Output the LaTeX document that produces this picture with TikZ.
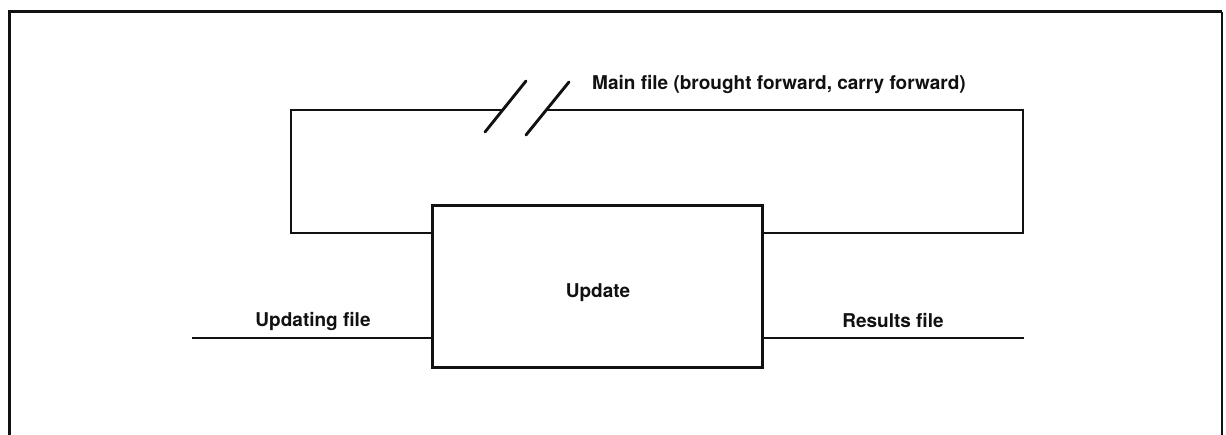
\documentclass[tikz,border=0pt]{standalone}
\usepackage{fontspec}
\setsansfont{TeX Gyre Heros}
\usetikzlibrary{positioning,calc}
\definecolor{Ink}{HTML}{111111}
\tikzset{
  wire/.style={line width=2.9pt,draw=Ink},
  procbox/.style={draw=Ink,line width=3pt,minimum width=330pt,minimum height=162pt,inner sep=0pt,fill=white},
  caption/.style={text=Ink,inner sep=0pt,font=\sffamily\bfseries\fontsize{19}{22}\selectfont},
  pageframe/.style={line width=3pt,draw=Ink}
}
\begin{document}
\begin{tikzpicture}[x=1pt,y=-1pt]
\useasboundingbox (0,0) rectangle (1226,435);
% page frame
\draw[pageframe] (9,435)--(9,12)--(1222,12);
\draw[Ink,line width=1.4pt] (1222,12)--(1222,435);
% update run
\node[procbox] (upd) at (597,287) {};
\node[caption,anchor=base] (updlbl) at (598,298) {Update};
% main file loop
\coordinate (loopTL) at (291,110);
\coordinate (loopTR) at (1023,110);
\coordinate (loopBL) at (291,233);
\coordinate (loopBR) at (1023,233);
\coordinate (brkA) at (503,110);
\coordinate (brkB) at (546,110);
\draw[wire] (upd.west |- loopBL)--(loopBL)--(loopTL)--(brkA);
\draw[wire] (brkB)--(loopTR)--(loopBR)--(upd.east |- loopBR);
\draw[wire,line cap=round] (485,132)--(526,81);
\draw[wire,line cap=round] (526,135)--(569,82);
\node[caption,anchor=base west] (mainlbl) at (592,90) {Main file (brought forward, carry forward)};
% updating and results files
\coordinate (inEnd) at (192,338);
\coordinate (outEnd) at (1024,338);
\draw[wire] (inEnd)--(upd.west |- inEnd);
\draw[wire] (upd.east |- outEnd)--(outEnd);
\node[caption,anchor=base] (inlbl) at (313,327) {Updating file};
\node[caption,anchor=base] (outlbl) at (893,328) {Results file};
\end{tikzpicture}
\end{document}
